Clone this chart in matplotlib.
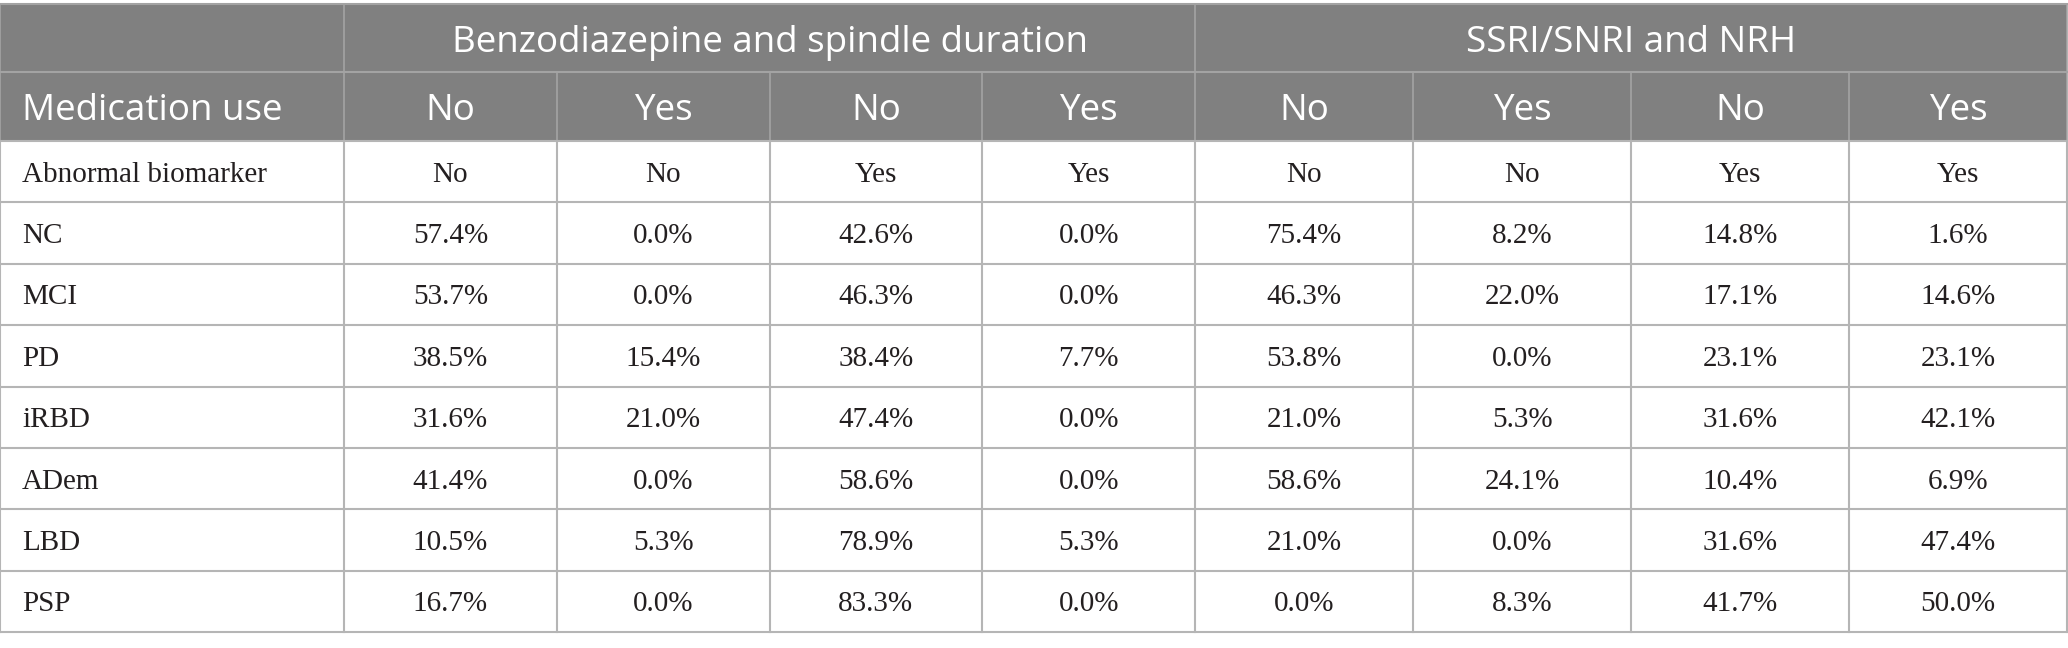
import numpy as np
import matplotlib.pyplot as plt

# table content
group_labels = ["Benzodiazepine and spindle duration", "SSRI/SNRI and NRH"]
medication_use = ["No", "Yes", "No", "Yes", "No", "Yes", "No", "Yes"]
abnormal_biomarker = ["No", "No", "Yes", "Yes", "No", "No", "Yes", "Yes"]
groups = ["NC", "MCI", "PD", "iRBD", "ADem", "LBD", "PSP"]
values = [
    [57.4, 0.0, 42.6, 0.0, 75.4, 8.2, 14.8, 1.6],
    [53.7, 0.0, 46.3, 0.0, 46.3, 22.0, 17.1, 14.6],
    [38.5, 15.4, 38.4, 7.7, 53.8, 0.0, 23.1, 23.1],
    [31.6, 21.0, 47.4, 0.0, 21.0, 5.3, 31.6, 42.1],
    [41.4, 0.0, 58.6, 0.0, 58.6, 24.1, 10.4, 6.9],
    [10.5, 5.3, 78.9, 5.3, 21.0, 0.0, 31.6, 47.4],
    [16.7, 0.0, 83.3, 0.0, 0.0, 8.3, 41.7, 50.0],
]

# layout in pixels
W, H = 2068, 648
col_edges = np.concatenate([[0], np.linspace(344, 1195, 5), np.linspace(1195, 2067, 5)[1:]])
top = 4
head1_bot = 72
head2_bot = 141
row_h = (632 - head2_bot) / 8.0
row_edges = head2_bot + row_h * np.arange(9)

header_gray = "#808080"
header_line = "#a3a3a3"
body_line = "#b5b5b5"
text_col = "#231f20"
sans = "Open Sans"
serif = "Liberation Serif"
head_fs = 26.5
body_fs = 21

fig = plt.figure(figsize=(W / 100, H / 100), dpi=100)
ax = fig.add_axes([0, 0, 1, 1])
ax.set_xlim(0, W)
ax.set_ylim(H, 0)
ax.axis('off')

# header background
ax.add_patch(plt.Rectangle((0, top), W - 1, head2_bot - top, color=header_gray, lw=0))

# header lines
ax.plot([0, W - 1], [top, top], color=header_line, lw=1.5)
ax.plot([0, W - 1], [head1_bot, head1_bot], color=header_line, lw=1.5)
for i, x in enumerate(col_edges):
    if i in (0, 1, 5, 9):
        ax.plot([x, x], [top, head2_bot], color=header_line, lw=1.2)
    else:
        ax.plot([x, x], [head1_bot, head2_bot], color=header_line, lw=1.2)

# body lines
for y in row_edges:
    ax.plot([0, W - 1], [y, y], color=body_line, lw=1.5)
for x in col_edges:
    ax.plot([x, x], [head2_bot, row_edges[-1]], color=body_line, lw=1.5)

# group headers
for g, label in enumerate(group_labels):
    x0 = col_edges[1 + 4 * g]
    x1 = col_edges[5 + 4 * g]
    ax.text((x0 + x1) / 2, 52, label, ha='center', va='baseline',
            fontsize=head_fs, family=sans, color='white')

# second header row
ax.text(22, 120, "Medication use", ha='left', va='baseline',
        fontsize=head_fs, family=sans, color='white')
for j, lab in enumerate(medication_use):
    xc = (col_edges[j + 1] + col_edges[j + 2]) / 2
    ax.text(xc, 120, lab, ha='center', va='baseline',
            fontsize=head_fs, family=sans, color='white')

# body rows
row_labels = ["Abnormal biomarker"] + groups
cells = [abnormal_biomarker] + [["%.1f%%" % v for v in r] for r in values]
for i, (lab, row) in enumerate(zip(row_labels, cells)):
    yb = (row_edges[i] + row_edges[i + 1]) / 2 + 10
    ax.text(22, yb, lab, ha='left', va='baseline', fontsize=body_fs,
            family=serif, color=text_col)
    for j, c in enumerate(row):
        xc = (col_edges[j + 1] + col_edges[j + 2]) / 2
        ax.text(xc, yb, c, ha='center', va='baseline', fontsize=body_fs,
                family=serif, color=text_col)

fig.savefig("out.png", dpi=100, facecolor='white')
